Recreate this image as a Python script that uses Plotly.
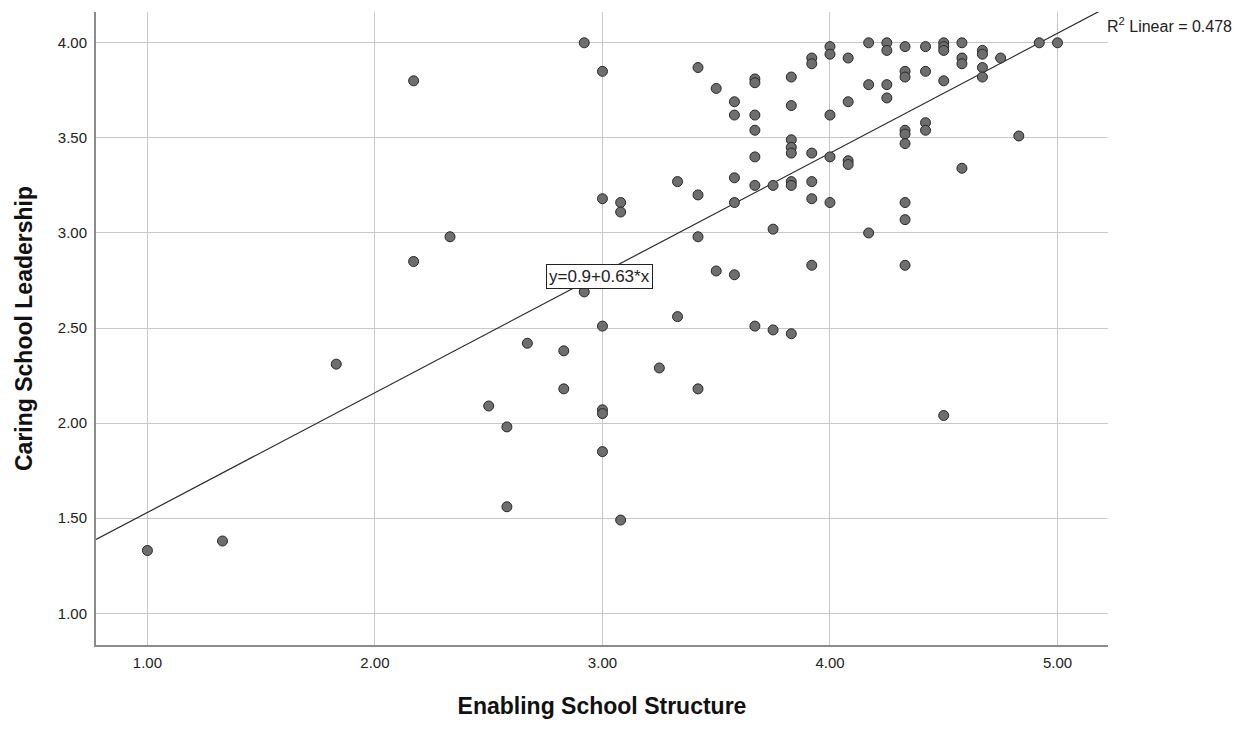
import plotly.graph_objects as go
import numpy as np

# Enabling School Structure (x) and Caring School Leadership (y)
ess = [1.00, 1.33, 1.83, 2.17, 2.17, 2.33, 2.50, 2.58, 2.58, 2.67,
       2.83, 2.83, 2.92, 2.92, 3.00, 3.00, 3.00, 3.00, 3.00, 3.00,
       3.08, 3.08, 3.08, 3.25, 3.33, 3.33, 3.42, 3.42, 3.42, 3.42,
       3.50, 3.50, 3.58, 3.58, 3.58, 3.58, 3.58, 3.67, 3.67, 3.67,
       3.67, 3.67, 3.67, 3.67, 3.75, 3.75, 3.75, 3.83, 3.83, 3.83,
       3.83, 3.83, 3.83, 3.83, 3.83, 3.92, 3.92, 3.92, 3.92, 3.92,
       3.92, 4.00, 4.00, 4.00, 4.00, 4.00, 4.08, 4.08, 4.08, 4.08,
       4.17, 4.17, 4.17, 4.25, 4.25, 4.25, 4.25, 4.33, 4.33, 4.33,
       4.33, 4.33, 4.33, 4.33, 4.33, 4.33, 4.42, 4.42, 4.42, 4.42,
       4.50, 4.50, 4.50, 4.50, 4.50, 4.58, 4.58, 4.58, 4.58, 4.67,
       4.67, 4.67, 4.67, 4.75, 4.83, 4.92, 5.00]
csl = [1.33, 1.38, 2.31, 3.80, 2.85, 2.98, 2.09, 1.98, 1.56, 2.42,
       2.38, 2.18, 4.00, 2.69, 3.85, 3.18, 2.51, 2.07, 2.05, 1.85,
       3.16, 3.11, 1.49, 2.29, 3.27, 2.56, 3.87, 3.20, 2.98, 2.18,
       3.76, 2.80, 3.69, 3.62, 3.29, 3.16, 2.78, 3.81, 3.79, 3.62,
       3.54, 3.40, 3.25, 2.51, 3.25, 3.02, 2.49, 3.82, 3.67, 3.49,
       3.45, 3.42, 3.27, 3.25, 2.47, 3.92, 3.89, 3.42, 3.27, 3.18,
       2.83, 3.98, 3.94, 3.62, 3.40, 3.16, 3.92, 3.69, 3.38, 3.36,
       4.00, 3.78, 3.00, 4.00, 3.96, 3.78, 3.71, 3.98, 3.85, 3.82,
       3.54, 3.52, 3.47, 3.16, 3.07, 2.83, 3.98, 3.85, 3.58, 3.54,
       4.00, 3.98, 3.96, 3.80, 2.04, 4.00, 3.92, 3.89, 3.34, 3.96,
       3.94, 3.87, 3.82, 3.92, 3.51, 4.00, 4.00]

# Fit line as labelled on the chart
intercept = 0.9
slope = 0.63
r2 = 0.478

x_ticks = [1.0, 2.0, 3.0, 4.0, 5.0]
x_tick_labels = ["1.00", "2.00", "3.00", "4.00", "5.00"]
y_ticks = [1.0, 1.5, 2.0, 2.5, 3.0, 3.5, 4.0]
y_tick_labels = ["1.00", "1.50", "2.00", "2.50", "3.00", "3.50", "4.00"]

x_range = [0.774, 5.222]
y_range = [0.833, 4.162]

line_x = np.array(x_range)
line_y = intercept + slope * line_x

FONT = "Liberation Sans, Arial, sans-serif"

fig = go.Figure()
fig.add_trace(go.Scatter(
    x=line_x, y=line_y, mode="lines",
    line=dict(color="#2a2a2a", width=1.2),
    hoverinfo="skip", showlegend=False,
))
fig.add_trace(go.Scatter(
    x=ess, y=csl, mode="markers",
    marker=dict(size=10, color="rgb(110,110,110)",
                line=dict(color="rgb(40,40,40)", width=1)),
    showlegend=False,
))

fig.add_annotation(
    x=2.985, y=2.77, xref="x", yref="y",
    text="y=0.9+0.63*x", showarrow=False,
    font=dict(family=FONT, size=17, color="#222222"),
    bgcolor="white", bordercolor="#222222", borderwidth=1, borderpad=2,
)
fig.add_annotation(
    x=1, y=0.980, xref="paper", yref="paper",
    xanchor="left", yanchor="middle", xshift=-3,
    text=f"R<sup>2</sup> Linear = {r2}", showarrow=False,
    font=dict(family=FONT, size=16, color="#222222"),
)

axis_common = dict(
    showgrid=True, gridcolor="#c8c8c8", gridwidth=1,
    zeroline=False, showline=True, linecolor="#8c8c8c", linewidth=2,
    ticks="", tickfont=dict(family=FONT, size=15, color="#222222"),
)

fig.update_xaxes(
    range=x_range, tickvals=x_ticks, ticktext=x_tick_labels,
    ticklabelstandoff=3,
    title=dict(text="<b>Enabling School Structure</b>", standoff=28,
               font=dict(family=FONT, size=23, color="#111111")),
    **axis_common,
)
fig.update_yaxes(
    range=y_range, tickvals=y_ticks, ticktext=y_tick_labels,
    ticklabelstandoff=4,
    title=dict(text="<b>Caring School Leadership</b>", standoff=19,
               font=dict(family=FONT, size=23, color="#111111")),
    **axis_common,
)

# The page body has an 8px margin, so the figure is shrunk by 8px and the
# margins shifted so the plot area lands on the reference pixel positions.
fig.update_layout(
    width=1233, height=722,
    margin=dict(l=88, r=133, t=4, b=85),
    paper_bgcolor="white", plot_bgcolor="white",
    font=dict(family=FONT),
)

fig.write_html("out.html")
